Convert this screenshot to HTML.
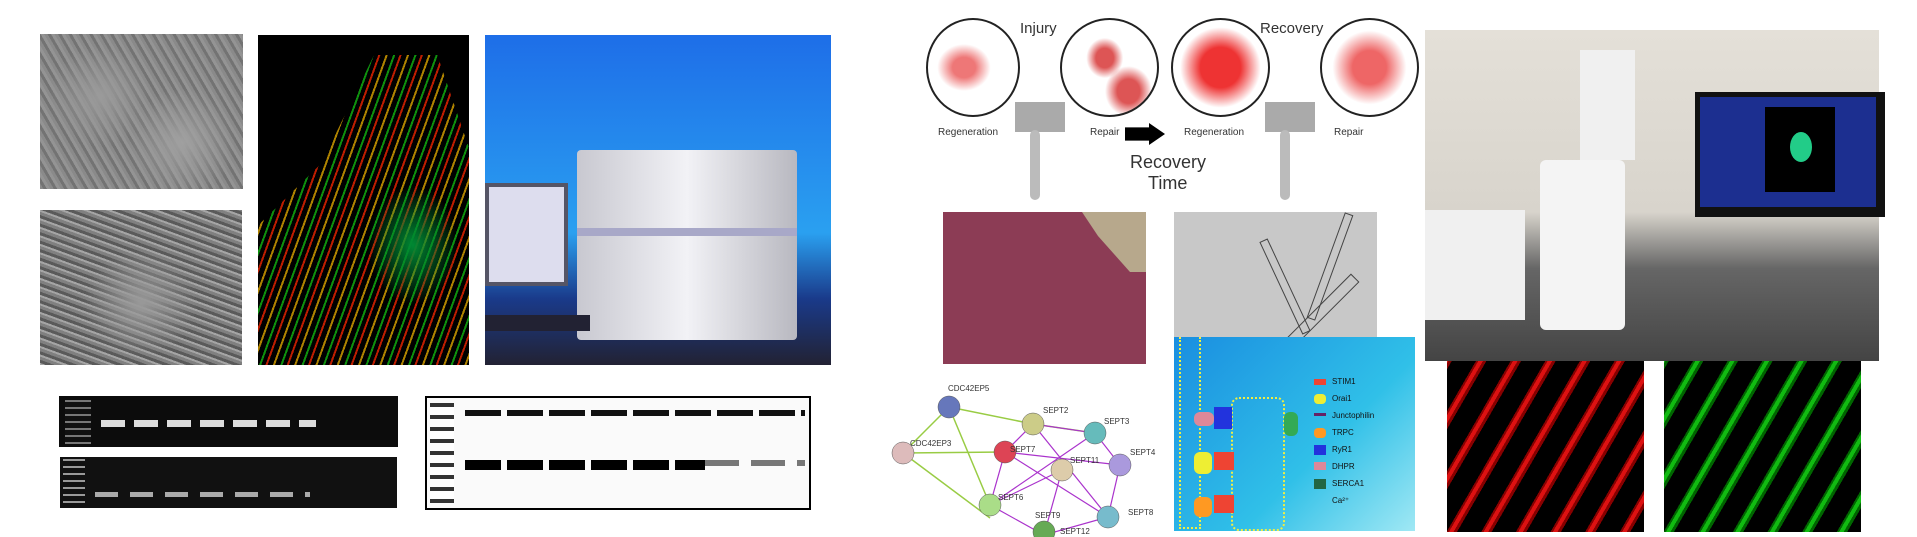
<!DOCTYPE html>
<html><head><meta charset="utf-8"><style>
body{margin:0;width:1917px;height:537px;background:#fff;position:relative;overflow:hidden;font-family:"Liberation Sans",sans-serif}
.a{position:absolute}
.t{position:absolute;font-size:9px;color:#333;white-space:nowrap}
</style></head><body>
<!-- phase contrast images -->
<div class="a" style="left:40px;top:34px;width:203px;height:155px;background:radial-gradient(circle at 30% 40%,#9a9a9a,transparent 30%),radial-gradient(circle at 70% 70%,#a0a0a0,transparent 30%),repeating-linear-gradient(60deg,#8a8a8a 0 3px,#737373 3px 6px,#949494 6px 9px),#888"></div>
<div class="a" style="left:40px;top:210px;width:202px;height:155px;background:radial-gradient(ellipse at 50% 60%,#999,transparent 40%),repeating-linear-gradient(20deg,#a5a5a5 0 2px,#5a5a5a 2px 5px,#808080 5px 8px),#777"></div>
<!-- fluorescence -->
<div class="a" style="left:258px;top:35px;width:211px;height:330px;background:#000;overflow:hidden">
<div class="a" style="left:0;top:20px;width:211px;height:310px;background:repeating-linear-gradient(110deg,#c90 0 2px,#000 2px 7px,#1a1 7px 9px,#000 9px 13px,#d20 13px 15px,#000 15px 20px);clip-path:polygon(55% 0,85% 0,100% 30%,100% 100%,0 100%,0 55%,30% 35%);opacity:.85"></div>
<div class="a" style="left:110px;top:150px;width:90px;height:120px;background:radial-gradient(#083 0,transparent 70%)"></div></div>
<!-- PCR machine -->
<div class="a" style="left:485px;top:35px;width:346px;height:330px;background:linear-gradient(#1e6ee8,#2aa0f0 60%,#1a3a8a 80%,#223 100%)">
<div class="a" style="left:92px;top:115px;width:220px;height:190px;background:linear-gradient(90deg,#c8c8d0,#f2f2f6 50%,#b8b8c0);border-radius:4px"></div>
<div class="a" style="left:92px;top:193px;width:220px;height:8px;background:#a8a8c8"></div>
<div class="a" style="left:0;top:148px;width:75px;height:95px;background:#dde;border:4px solid #556"></div>
<div class="a" style="left:0;top:280px;width:105px;height:16px;background:#223"></div></div>
<!-- gels -->
<div class="a" style="left:59px;top:396px;width:339px;height:51px;background:#0c0c0c">
<div class="a" style="left:6px;top:4px;width:26px;height:44px;background:repeating-linear-gradient(#777 0 2px,#111 2px 7px)"></div>
<div class="a" style="left:42px;top:24px;width:215px;height:7px;background:repeating-linear-gradient(90deg,#ddd 0 24px,transparent 24px 33px)"></div></div>
<div class="a" style="left:60px;top:457px;width:337px;height:51px;background:#111">
<div class="a" style="left:3px;top:2px;width:22px;height:46px;background:repeating-linear-gradient(#999 0 2px,#111 2px 7px)"></div>
<div class="a" style="left:35px;top:35px;width:215px;height:5px;background:repeating-linear-gradient(90deg,#aaa 0 23px,transparent 23px 35px)"></div></div>
<!-- western -->
<div class="a" style="left:425px;top:396px;width:382px;height:110px;border:2px solid #000;background:#fafafa">
<div class="a" style="left:3px;top:5px;width:24px;height:100px;background:repeating-linear-gradient(#333 0 4px,#fff 4px 12px)"></div>
<div class="a" style="left:38px;top:12px;width:340px;height:6px;background:repeating-linear-gradient(90deg,#111 0 36px,transparent 36px 42px)"></div>
<div class="a" style="left:38px;top:62px;width:240px;height:10px;background:repeating-linear-gradient(90deg,#000 0 36px,transparent 36px 42px)"></div>
<div class="a" style="left:278px;top:62px;width:100px;height:6px;background:repeating-linear-gradient(90deg,#777 0 34px,transparent 34px 46px)"></div></div>
<!-- injury diagram -->
<div class="a" style="left:920px;top:10px;width:496px;height:195px">
<div class="a" style="left:6px;top:8px;width:90px;height:95px;border:2px solid #222;border-radius:50%;background:radial-gradient(ellipse at 40% 50%,#e77 15%,transparent 35%)"></div>
<div class="a" style="left:140px;top:8px;width:95px;height:95px;border:2px solid #222;border-radius:50%;background:radial-gradient(ellipse at 45% 40%,#d55 12%,transparent 25%),radial-gradient(ellipse at 70% 75%,#d55 12%,transparent 25%)"></div>
<div class="a" style="left:251px;top:8px;width:95px;height:95px;border:2px solid #222;border-radius:50%;background:radial-gradient(#e33 30%,transparent 60%)"></div>
<div class="a" style="left:400px;top:8px;width:95px;height:95px;border:2px solid #222;border-radius:50%;background:radial-gradient(#e66 25%,transparent 55%)"></div>
<div class="a" style="left:95px;top:92px;width:50px;height:30px;background:#aaa"></div>
<div class="a" style="left:345px;top:92px;width:50px;height:30px;background:#aaa"></div>
<div class="a" style="left:110px;top:120px;width:10px;height:70px;background:#bbb;border-radius:5px"></div>
<div class="a" style="left:360px;top:120px;width:10px;height:70px;background:#bbb;border-radius:5px"></div>
<span class="t" style="left:100px;top:10px;font-size:15px">Injury</span>
<span class="t" style="left:340px;top:10px;font-size:15px">Recovery</span>
<span class="t" style="left:18px;top:117px;font-size:10px">Regeneration</span>
<span class="t" style="left:170px;top:117px;font-size:10px">Repair</span>
<span class="t" style="left:264px;top:117px;font-size:10px">Regeneration</span>
<span class="t" style="left:414px;top:117px;font-size:10px">Repair</span>
<div class="a" style="left:205px;top:113px;width:40px;height:22px;background:#000;clip-path:polygon(0 20%,60% 20%,60% 0,100% 50%,60% 100%,60% 80%,0 80%)"></div>
<span class="t" style="left:210px;top:142px;font-size:18px">Recovery</span>
<span class="t" style="left:228px;top:163px;font-size:18px">Time</span></div>
<!-- microscope -->
<div class="a" style="left:1425px;top:30px;width:454px;height:331px;background:linear-gradient(#e4e0d8,#d8d4cc 55%,#666 72%,#444)">
<div class="a" style="left:270px;top:62px;width:190px;height:125px;background:#111"><div class="a" style="left:5px;top:5px;width:176px;height:110px;background:#1c2f90"></div><div class="a" style="left:70px;top:15px;width:70px;height:85px;background:#000"><div class="a" style="left:25px;top:25px;width:22px;height:30px;background:#2c8;border-radius:50%"></div></div></div>
<div class="a" style="left:115px;top:130px;width:85px;height:170px;background:#f4f4f4;border-radius:6px"></div>
<div class="a" style="left:155px;top:20px;width:55px;height:110px;background:#f0f0f0"></div>
<div class="a" style="left:0;top:180px;width:100px;height:110px;background:#f0f0f0"></div></div>
<!-- H&E -->
<div class="a" style="left:943px;top:212px;width:203px;height:152px;background:#8c3c55"><div class="a" style="right:0;top:0;width:80px;height:60px;background:#b7a88c;clip-path:polygon(20% 0,100% 0,100% 100%,80% 100%,40% 40%)"></div></div>
<!-- fibers -->
<div class="a" style="left:1174px;top:212px;width:203px;height:155px;background:#c8c8c8">
<div class="a" style="left:60px;top:70px;width:100px;height:7px;border:1px solid #444;transform:rotate(65deg)"></div>
<div class="a" style="left:100px;top:50px;width:110px;height:7px;border:1px solid #444;transform:rotate(-70deg)"></div>
<div class="a" style="left:60px;top:110px;width:140px;height:10px;border:1px solid #444;transform:rotate(-45deg)"></div></div>
<!-- schematic -->
<div class="a" style="left:1174px;top:337px;width:241px;height:194px;background:linear-gradient(135deg,#1a8ee0,#30c0e8 60%,#a0e8f4);overflow:hidden">
<div class="a" style="left:5px;top:0;width:18px;height:190px;border:2px dotted #ee4;border-top:none"></div>
<div class="a" style="left:57px;top:60px;width:50px;height:130px;border:2px dotted #ee4;border-radius:8px"></div>
<div class="a" style="left:20px;top:75px;width:20px;height:14px;background:#d89;border-radius:6px"></div>
<div class="a" style="left:40px;top:70px;width:18px;height:22px;background:#23d"></div>
<div class="a" style="left:20px;top:115px;width:18px;height:22px;background:#ee3;border-radius:6px"></div>
<div class="a" style="left:40px;top:115px;width:20px;height:18px;background:#e43"></div>
<div class="a" style="left:20px;top:160px;width:18px;height:20px;background:#f92;border-radius:6px"></div>
<div class="a" style="left:40px;top:158px;width:20px;height:18px;background:#e43"></div>
<div class="a" style="left:110px;top:75px;width:14px;height:24px;background:#3a5;border-radius:6px"></div>
<span class="t" style="left:158px;top:40px;font-size:8px;color:#111">STIM1</span>
<span class="t" style="left:158px;top:57px;font-size:8px;color:#111">Orai1</span>
<span class="t" style="left:158px;top:74px;font-size:8px;color:#111">Junctophilin</span>
<span class="t" style="left:158px;top:91px;font-size:8px;color:#111">TRPC</span>
<span class="t" style="left:158px;top:108px;font-size:8px;color:#111">RyR1</span>
<span class="t" style="left:158px;top:125px;font-size:8px;color:#111">DHPR</span>
<span class="t" style="left:158px;top:142px;font-size:8px;color:#111">SERCA1</span>
<span class="t" style="left:158px;top:159px;font-size:8px;color:#111">Ca²⁺</span>
<div class="a" style="left:140px;top:42px;width:12px;height:6px;background:#e43"></div>
<div class="a" style="left:140px;top:57px;width:12px;height:10px;background:#ee3;border-radius:4px"></div>
<div class="a" style="left:140px;top:76px;width:12px;height:3px;background:#626"></div>
<div class="a" style="left:140px;top:91px;width:12px;height:10px;background:#f92;border-radius:4px"></div>
<div class="a" style="left:140px;top:108px;width:12px;height:10px;background:#23d"></div>
<div class="a" style="left:140px;top:125px;width:12px;height:8px;background:#d89"></div>
<div class="a" style="left:140px;top:142px;width:12px;height:10px;background:#264"></div></div>
<!-- network -->
<svg class="a" style="left:880px;top:380px" width="290" height="157">
<g stroke="#9c4" stroke-width="1.5" fill="none">
<line x1="69" y1="27" x2="23" y2="73"/><line x1="69" y1="27" x2="153" y2="44"/><line x1="23" y1="73" x2="125" y2="72"/><line x1="23" y1="73" x2="110" y2="138"/><line x1="69" y1="27" x2="110" y2="125"/><line x1="153" y1="44" x2="215" y2="53"/></g>
<g stroke="#a3c" stroke-width="1.2" fill="none">
<path d="M153 44L215 53L240 85L228 137L164 155L110 125L125 72Z"/><line x1="153" y1="44" x2="228" y2="137"/><line x1="125" y1="72" x2="240" y2="85"/><line x1="110" y1="125" x2="215" y2="53"/><line x1="182" y1="90" x2="164" y2="155"/><line x1="182" y1="90" x2="110" y2="125"/><line x1="125" y1="72" x2="228" y2="137"/></g>
<g stroke="#555" stroke-width=".5">
<circle cx="69" cy="27" r="11" fill="#67b"/><circle cx="23" cy="73" r="11" fill="#dbb"/><circle cx="153" cy="44" r="11" fill="#cc8"/><circle cx="215" cy="53" r="11" fill="#6bb"/><circle cx="125" cy="72" r="11" fill="#d45"/><circle cx="182" cy="90" r="11" fill="#dca"/><circle cx="240" cy="85" r="11" fill="#a9d"/><circle cx="110" cy="125" r="11" fill="#ad8"/><circle cx="228" cy="137" r="11" fill="#7bc"/><circle cx="164" cy="152" r="11" fill="#6a5"/></g>
<g font-size="8" fill="#333" font-family="Liberation Sans"><text x="68" y="11">CDC42EP5</text><text x="30" y="66">CDC42EP3</text><text x="163" y="33">SEPT2</text><text x="224" y="44">SEPT3</text><text x="130" y="72">SEPT7</text><text x="190" y="83">SEPT11</text><text x="250" y="75">SEPT4</text><text x="118" y="120">SEPT6</text><text x="248" y="135">SEPT8</text><text x="155" y="138">SEPT9</text><text x="180" y="154">SEPT12</text></g></svg>
<!-- stripes -->
<div class="a" style="left:1447px;top:361px;width:197px;height:171px;background:repeating-linear-gradient(-60deg,#000 0 12px,#800 12px 15px,#d11 15px 19px,#800 19px 21px,#000 21px 30px)"></div>
<div class="a" style="left:1664px;top:361px;width:197px;height:171px;background:repeating-linear-gradient(-60deg,#000 0 12px,#060 12px 15px,#1b1 15px 19px,#060 19px 21px,#000 21px 30px)"></div>
</body></html>
